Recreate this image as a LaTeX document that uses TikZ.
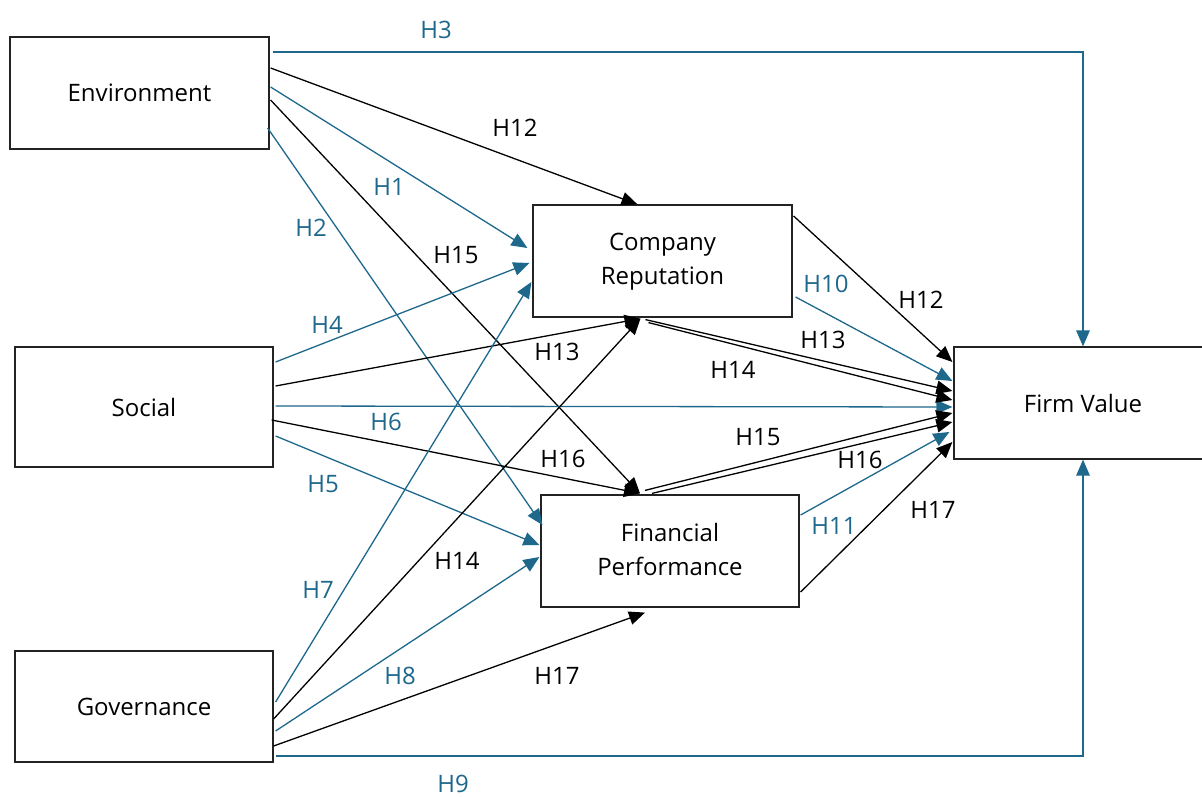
\documentclass[tikz,border=0pt]{standalone}
\usepackage{fontspec}
\setmainfont{Open Sans}
\usetikzlibrary{arrows.meta,calc}
\definecolor{hblue}{RGB}{30,104,140}
\definecolor{boxline}{RGB}{35,35,35}
\tikzset{
  box/.style={draw=boxline,line width=1.2pt,inner sep=0pt,align=center,font=\fontsize{24}{34}\selectfont},
  bk/.style={draw=black,line width=1.3pt},
  bl/.style={draw=hblue,line width=1.3pt},
  arr/.style={-{Triangle[length=16pt,width=13.5pt]}},
  lbk/.style={font=\fontsize{24}{28}\selectfont,text=black,inner sep=0pt},
  lbl/.style={font=\fontsize{24}{28}\selectfont,text=hblue,inner sep=0pt},
}
\begin{document}
\begin{tikzpicture}[x=1pt,y=-1pt]
\useasboundingbox[fill=white] (0,0) rectangle (1202,797);
% boxes
\node[box,minimum width=259pt,minimum height=112pt] (env) at (139.5,93) {Environment};
\node[box,minimum width=258pt,minimum height=120pt] (soc) at (144,407) {Social};
\node[box,minimum width=258pt,minimum height=111pt] (gov) at (144,706.5) {Governance};
\node[box,minimum width=259pt,minimum height=112pt,text depth=4pt] (cr) at (662.5,261) {Company\\Reputation};
\node[box,minimum width=258pt,minimum height=112pt,text depth=4pt] (fp) at (670,551) {Financial\\Performance};
\node[box,minimum width=258pt,minimum height=112pt] (fv) at (1083,403) {Firm Value};
% Environment
\draw[bl,arr] ($(env.east)+(3,-41)$) -| (fv.north);
\draw[bk,arr] ($(env.east)+(1,-25)$) -- ($(cr.north)+(-25,0)$);
\draw[bl,arr] ($(env.east)+(1,-6)$) -- ($(cr.west)+(-5,-13)$);
\draw[bk,arr] ($(env.east)+(1,7)$) -- ($(fp.north)+(-30,-1)$);
\draw[bl,arr] ($(env.east)+(-2,35)$) -- ($(fp.west)+(2,-26)$);
% Social
\draw[bl,arr] ($(soc.east)+(2,-45)$) -- ($(cr.west)+(-3,2)$);
\draw[bk,arr] ($(soc.east)+(2,-21)$) -- ($(cr.south)+(-22,1)$);
\draw[bl,arr] ($(soc.east)+(2,-1)$) -- ($(fv.west)+(-1,4)$);
\draw[bk,arr] ($(soc.east)+(-2,13)$) -- ($(fp.north)+(-30,-1)$);
\draw[bl,arr] ($(soc.east)+(2,29)$) -- ($(fp.west)+(-1,-6)$);
% Governance
\draw[bl,arr] ($(gov.east)+(2,-4.5)$) -- ($(cr.west)+(-1,21)$);
\draw[bk,arr] ($(gov.east)+(0,12.5)$) -- ($(cr.south)+(-22,1)$);
\draw[bl,arr] ($(gov.east)+(2,24.5)$) -- ($(fp.west)+(-1,6)$);
\draw[bk,arr] ($(gov.east)+(0,39.5)$) -- ($(fp.south)+(-25,5)$);
\draw[bl,arr] ($(gov.east)+(2,49.5)$) -| (fv.south);
% Company Reputation -> Firm Value
\draw[bk,arr] ($(cr.east)+(1,-45)$) -- ($(fv.west)+(-1,-41)$);
\draw[bl,arr] ($(cr.east)+(3,36)$) -- ($(fv.west)+(-1,-22)$);
\draw[bk,arr] ($(cr.south)+(-17,2)$) -- ($(fv.west)+(-1,-12)$);
\draw[bk,arr] ($(cr.south)+(-14,5)$) -- ($(fv.west)+(-1,-3)$);
% Financial Performance -> Firm Value
\draw[bk,arr] ($(fp.north)+(-25,-4)$) -- ($(fv.west)+(-1,10)$);
\draw[bk,arr] ($(fp.north)+(-18,-1)$) -- ($(fv.west)+(-1,19)$);
\draw[bl,arr] ($(fp.east)+(1,-36)$) -- ($(fv.west)+(-4,29)$);
\draw[bk,arr] ($(fp.east)+(1,41)$) -- ($(fv.west)+(-1,39)$);
% labels
\node[lbl] (l3) at (436,30) {H3};
\node[lbk] (l12a) at (515,128) {H12};
\node[lbl] (l1) at (389,187) {H1};
\node[lbl] (l2) at (311,228) {H2};
\node[lbk] (l15a) at (456,255) {H15};
\node[lbl] (l4) at (327,325) {H4};
\node[lbk] (l13a) at (557,352) {H13};
\node[lbl] (l6) at (386,422) {H6};
\node[lbk] (l16a) at (563,459) {H16};
\node[lbl] (l5) at (323,484) {H5};
\node[lbk] (l14a) at (457,561) {H14};
\node[lbl] (l7) at (318,590) {H7};
\node[lbl] (l8) at (400,676) {H8};
\node[lbk] (l17a) at (557,676) {H17};
\node[lbl] (l9) at (453,784) {H9};
\node[lbl] (l10) at (826,284) {H10};
\node[lbk] (l12b) at (921,300) {H12};
\node[lbk] (l13b) at (823,340) {H13};
\node[lbk] (l14b) at (733,370) {H14};
\node[lbk] (l15b) at (758,437) {H15};
\node[lbk] (l16b) at (860,460) {H16};
\node[lbl] (l11) at (834,526) {H11};
\node[lbk] (l17b) at (933,510) {H17};
\end{tikzpicture}
\end{document}
